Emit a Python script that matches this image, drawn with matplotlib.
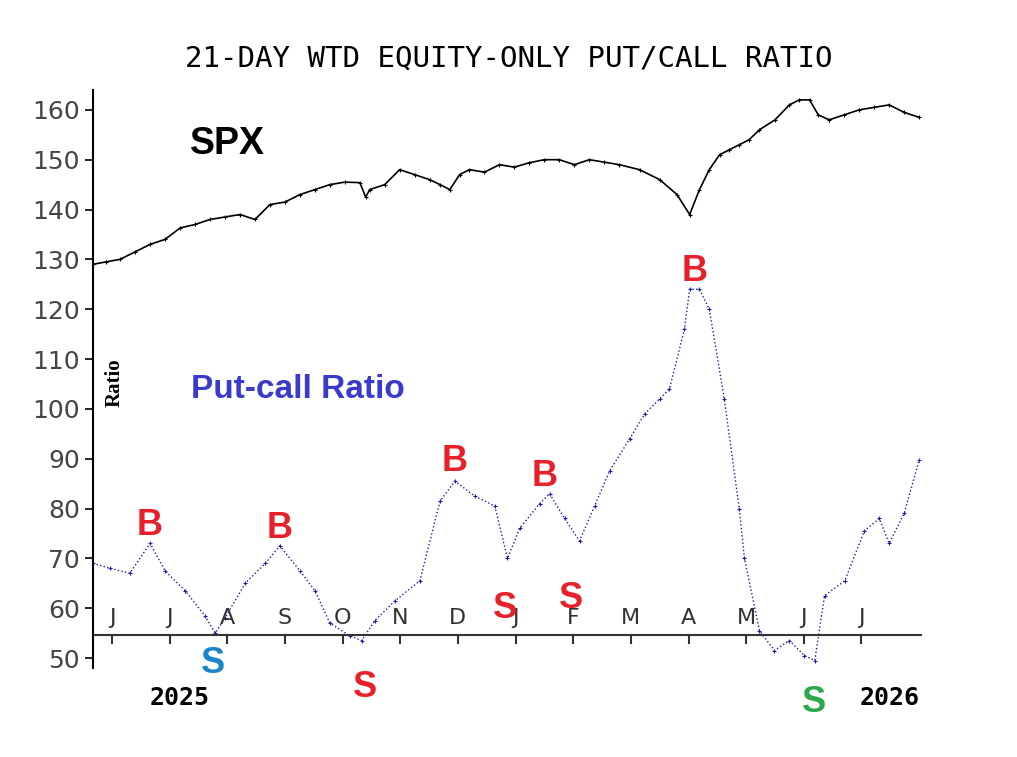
import matplotlib
matplotlib.use("Agg")
import matplotlib.pyplot as plt

# x = months since start of Jun 2025
spx_x = [-0.33, -0.1, 0.14, 0.4, 0.66, 0.92, 1.18, 1.44, 1.70, 1.96, 2.22, 2.48, 2.74, 3.0, 3.26, 3.52,
         3.78, 4.04, 4.30, 4.40, 4.47, 4.73, 4.99, 5.25, 5.51, 5.69, 5.86, 6.03, 6.20, 6.46, 6.72, 6.98,
         7.24, 7.5, 7.76, 8.02, 8.28, 8.54, 8.80, 9.15, 9.50, 9.8, 10.02, 10.19, 10.36, 10.54, 10.71,
         10.88, 11.05, 11.23, 11.5, 11.75, 11.92, 12.10, 12.25, 12.44, 12.7, 12.96, 13.22, 13.48, 13.74, 14.0]
spx_y = [129, 129.5, 130, 131.5, 133, 134, 136.3, 137, 138, 138.5, 139, 138, 141, 141.5, 143, 144,
         145, 145.5, 145.4, 142.5, 144, 145, 148, 147, 146, 145, 144, 147, 148, 147.5, 149, 148.5,
         149.4, 150, 150, 149, 150, 149.5, 149, 148, 146, 143, 139, 144, 148, 151, 152,
         153, 154, 156, 158, 161, 162, 162, 159, 158, 159, 160, 160.5, 161, 159.5, 158.5]

pcr_x = [-0.33, -0.03, 0.31, 0.66, 0.92, 1.27, 1.61, 1.79, 1.96, 2.31, 2.66, 2.91, 3.26, 3.52, 3.78,
         4.12, 4.33, 4.56, 4.91, 5.34, 5.69, 5.95, 6.29, 6.64, 6.86, 7.07, 7.42, 7.59, 7.85, 8.11, 8.37,
         8.63, 8.98, 9.24, 9.5, 9.67, 9.93, 10.02, 10.19, 10.36, 10.62, 10.88, 10.97, 11.23, 11.49,
         11.75, 12.01, 12.19, 12.36, 12.71, 13.05, 13.31, 13.48, 13.74, 14.0]
pcr_y = [69, 68, 67, 73, 67.5, 63.5, 58.5, 55, 58, 65, 69, 72.5, 67.5, 63.5, 57,
         54.5, 53.5, 57.5, 61.5, 65.5, 81.5, 85.5, 82.5, 80.5, 70, 76, 81, 83, 78, 73.5, 80.5,
         87.5, 94, 99, 102, 104, 116, 124, 124, 120, 102, 80, 70, 55.5, 51.5,
         53.5, 50.5, 49.5, 62.5, 65.5, 75.5, 78, 73, 79, 89.7]

months = ["J", "J", "A", "S", "O", "N", "D", "J", "F", "M", "A", "M", "J", "J"]
yticks = [50, 60, 70, 80, 90, 100, 110, 120, 130, 140, 150, 160]
signals = [("B", 0.66, 76.5, "#e8202a"), ("B", 2.91, 76, "#e8202a"), ("B", 5.95, 89.5, "#e8202a"),
           ("B", 7.5, 86.5, "#e8202a"), ("B", 10.1, 127.5, "#e8202a"),
           ("S", 1.76, 48.8, "#1a86c8"), ("S", 4.38, 44, "#e8202a"), ("S", 6.82, 60, "#e8202a"),
           ("S", 7.96, 62, "#e8202a"), ("S", 12.18, 41, "#2aa84a")]

fig = plt.figure(figsize=(10.17, 7.57), dpi=100)
ax = fig.add_axes([0.0914, 0.1176, 0.8152, 0.7636])
ax.plot(spx_x, spx_y, color="black", lw=1.2, marker="+", ms=3, mew=0.8)
ax.plot(pcr_x, pcr_y, color="#1c1ca8", lw=1, ls=":", marker="+", ms=3, mew=0.8)

ax.set_xlim(-0.33, 14.05)
ax.set_ylim(48, 164)
for s in ["top", "right", "bottom"]:
    ax.spines[s].set_visible(False)
ax.spines["left"].set_linewidth(1.5)
ax.set_xticks([])
ax.set_yticks(yticks)
ax.tick_params(axis="y", labelsize=18, length=6, width=1.2, colors="black")
for t in ax.get_yticklabels():
    t.set_color("#444444")

# month axis drawn inside the chart
ax.axhline(54.7, color="#333333", lw=1.5)
for i, m in enumerate(months):
    ax.plot([i, i], [54.7, 53.1], color="#333333", lw=1.5)
    ax.text(i, 58, m, ha="center", va="center", fontsize=16, color="#333333")

for lab, x, y, c in signals:
    ax.text(x, y, lab, ha="center", va="center", fontsize=26, fontweight="bold", color=c,
            family="Liberation Sans")

fig.text(0.5, 0.923, "21-DAY WTD EQUITY-ONLY PUT/CALL RATIO", ha="center", va="center",
         fontsize=21, family="DejaVu Sans Mono")
fig.text(0.187, 0.81, "SPX", fontsize=27, fontweight="bold", family="Liberation Sans", va="center")
fig.text(0.188, 0.485, "Put-call Ratio", fontsize=24, fontweight="bold", color="#3a3acc",
         family="Liberation Sans", va="center")
fig.text(0.113, 0.495, "Ratio", rotation=90, fontsize=15, family="Liberation Serif",
         fontweight="bold", ha="center", va="center")
fig.text(0.177, 0.078, "2025", fontsize=18, fontweight="bold", family="DejaVu Sans Mono",
         ha="center", va="center")
fig.text(0.875, 0.078, "2026", fontsize=18, fontweight="bold", family="DejaVu Sans Mono",
         ha="center", va="center")

fig.savefig("out.png", dpi=100)
